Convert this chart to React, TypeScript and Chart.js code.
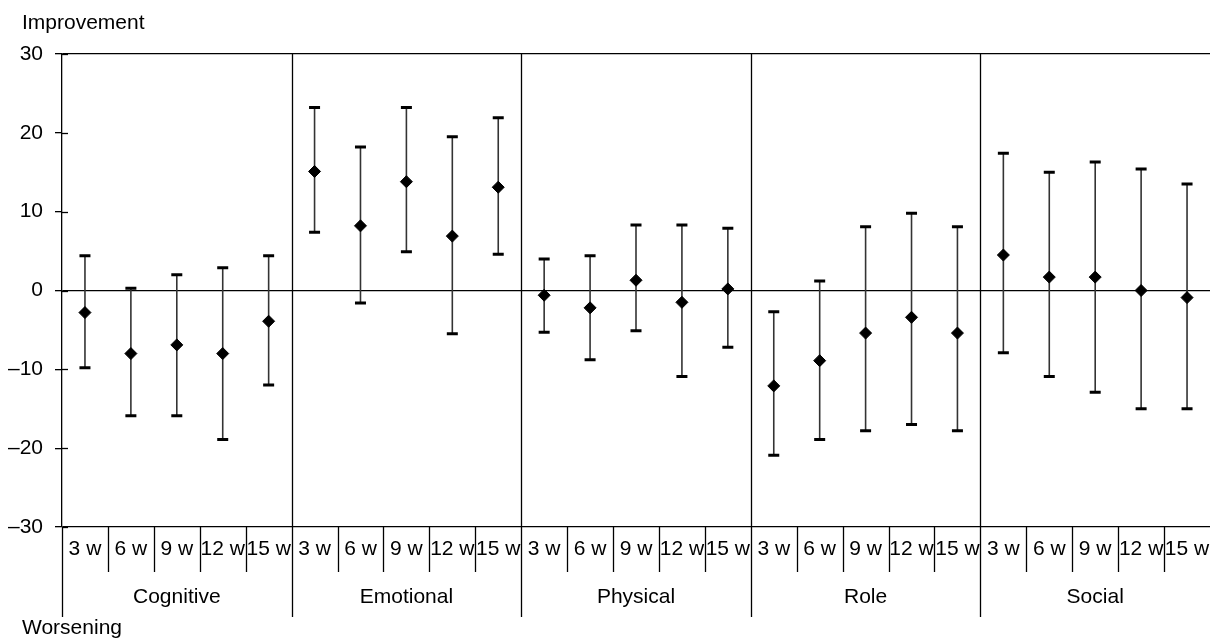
import React, { useEffect, useRef } from "react";
import { Chart, registerables } from "chart.js";

Chart.register(...registerables);

const groups = ["Cognitive", "Emotional", "Physical", "Role", "Social"];
const weeks = ["3 w", "6 w", "9 w", "12 w", "15 w"];

const meanValues = [
  -2.8, -8.0, -6.9, -8.0, -3.9,
  15.1, 8.2, 13.8, 6.9, 13.1,
  -0.6, -2.2, 1.3, -1.5, 0.2,
  -12.1, -8.9, -5.4, -3.4, -5.4,
  4.5, 1.7, 1.7, 0.0, -0.9,
];
const upperValues = [
  4.4, 0.3, 2.0, 2.9, 4.4,
  23.2, 18.2, 23.2, 19.5, 21.9,
  4.0, 4.4, 8.3, 8.3, 7.9,
  -2.7, 1.2, 8.1, 9.8, 8.1,
  17.4, 15.0, 16.3, 15.4, 13.5,
];
const lowerValues = [
  -9.8, -15.9, -15.9, -18.9, -12.0,
  7.4, -1.6, 4.9, -5.5, 4.6,
  -5.3, -8.8, -5.1, -10.9, -7.2,
  -20.9, -18.9, -17.8, -17.0, -17.8,
  -7.9, -10.9, -12.9, -15.0, -15.0,
];
const yTicks = [-30, -20, -10, 0, 10, 20, 30];
const topLabel = "Improvement";
const bottomLabel = "Worsening";

const FONT = "Arial, 'Liberation Sans', Helvetica, sans-serif";
const FSIZE = 21;

const decorPlugin = {
  id: "decor",
  beforeDatasetsDraw(chart: any) {
    const { ctx, scales, chartArea } = chart;
    const x = scales.x;
    const y = scales.y;
    ctx.save();
    ctx.strokeStyle = "#000";
    ctx.lineWidth = 1.3;
    yTicks.forEach((t) => {
      const py = Math.round(y.getPixelForValue(t)) + 0.5;
      ctx.beginPath();
      ctx.moveTo(chartArea.left, py);
      ctx.lineTo(chartArea.left + 6, py);
      ctx.stroke();
    });
    for (let i = 0; i < meanValues.length; i++) {
      const px = x.getPixelForValue(i + 0.5);
      const pt = y.getPixelForValue(upperValues[i]);
      const pb = y.getPixelForValue(lowerValues[i]);
      ctx.strokeStyle = "#333";
      ctx.lineWidth = 1.6;
      ctx.beginPath();
      ctx.moveTo(px, pt);
      ctx.lineTo(px, pb);
      ctx.stroke();
      ctx.strokeStyle = "#000";
      ctx.lineWidth = 3;
      ctx.beginPath();
      ctx.moveTo(px - 5.5, pt);
      ctx.lineTo(px + 5.5, pt);
      ctx.moveTo(px - 5.5, pb);
      ctx.lineTo(px + 5.5, pb);
      ctx.stroke();
    }
    ctx.restore();
  },
  afterDraw(chart: any) {
    const { ctx, scales, chartArea } = chart;
    const x = scales.x;
    const bottom = chartArea.bottom;
    ctx.save();
    ctx.strokeStyle = "#000";
    ctx.lineWidth = 1.3;
    for (let i = 1; i < meanValues.length; i++) {
      if (i % weeks.length === 0) continue;
      const px = Math.round(x.getPixelForValue(i)) + 0.5;
      ctx.beginPath();
      ctx.moveTo(px, bottom);
      ctx.lineTo(px, bottom + 45);
      ctx.stroke();
    }
    for (let g = 0; g < groups.length; g++) {
      const px = Math.round(x.getPixelForValue(g * weeks.length)) + 0.5;
      ctx.beginPath();
      ctx.moveTo(px, g === 0 ? bottom : chartArea.top);
      ctx.lineTo(px, bottom + 90);
      ctx.stroke();
    }
    ctx.fillStyle = "#000";
    ctx.font = `${FSIZE}px ${FONT}`;
    ctx.textAlign = "center";
    ctx.textBaseline = "middle";
    for (let i = 0; i < meanValues.length; i++) {
      const px = x.getPixelForValue(i + 0.5);
      ctx.fillText(weeks[i % weeks.length], px, bottom + 22);
    }
    for (let g = 0; g < groups.length; g++) {
      const px = x.getPixelForValue(g * weeks.length + weeks.length / 2);
      ctx.fillText(groups[g], px, bottom + 70);
    }
    ctx.textAlign = "left";
    ctx.fillText(topLabel, 22, 23);
    ctx.fillText(bottomLabel, 22, bottom + 101);
    ctx.restore();
  },
};

export default function App() {
  const ref = useRef<HTMLCanvasElement>(null);
  useEffect(() => {
    document.body.style.margin = "0";
    const canvas = ref.current;
    if (!canvas) return;
    const points = meanValues.map((v, i) => ({ x: i + 0.5, y: v }));
    const chart = new Chart(canvas, {
      type: "scatter",
      data: {
        datasets: [
          {
            data: points,
            pointStyle: "rectRot",
            pointRadius: 6,
            pointHoverRadius: 6,
            backgroundColor: "#000",
            borderColor: "#000",
            borderWidth: 1,
          },
        ],
      },
      options: {
        animation: false,
        responsive: false,
        maintainAspectRatio: false,
        devicePixelRatio: 1,
        events: [],
        layout: { autoPadding: false, padding: { top: 54, bottom: 113, left: 0, right: 0 } },
        plugins: {
          legend: { display: false },
          tooltip: { enabled: false },
          title: { display: false },
        },
        scales: {
          x: {
            type: "linear",
            min: 0,
            max: meanValues.length,
            display: false,
          },
          y: {
            type: "linear",
            min: -30,
            max: 30,
            afterFit: (scale: any) => {
              scale.width = 62;
            },
            afterBuildTicks: (scale: any) => {
              scale.ticks = yTicks.map((v) => ({ value: v }));
            },
            ticks: {
              color: "#000",
              padding: 12,
              font: { family: FONT, size: FSIZE },
              callback: (v: any) => String(v).replace("-", "\u2013"),
            },
            border: { display: true, color: "#000", width: 1.3 },
            grid: {
              drawOnChartArea: true,
              color: (c: any) =>
                c.tick && (c.tick.value === 0 || c.tick.value === 30 || c.tick.value === -30)
                  ? "#000"
                  : "rgba(0,0,0,0)",
              lineWidth: 1.3,
              tickColor: "#000",
              tickLength: 7,
            },
          },
        },
      },
      plugins: [decorPlugin],
    });
    return () => chart.destroy();
  }, []);
  return <canvas ref={ref} width={1210} height={640} style={{ display: "block" }} />;
}
